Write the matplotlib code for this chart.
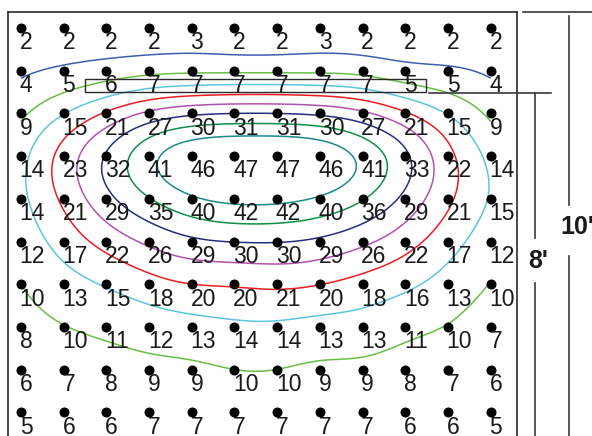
import numpy as np
import matplotlib
matplotlib.use('Agg')
import matplotlib.pyplot as plt
from matplotlib.patches import Rectangle

plt.rcParams['font.family'] = ['Liberation Sans', 'DejaVu Sans']

# illuminance readings on the grid (rows top -> bottom)
valores = [
    [2, 2, 2, 2, 3, 2, 2, 3, 2, 2, 2, 2],
    [4, 5, 6, 7, 7, 7, 7, 7, 7, 5, 5, 4],
    [9, 15, 21, 27, 30, 31, 31, 30, 27, 21, 15, 9],
    [14, 23, 32, 41, 46, 47, 47, 46, 41, 33, 22, 14],
    [14, 21, 29, 35, 40, 42, 42, 40, 36, 29, 21, 15],
    [12, 17, 22, 26, 29, 30, 30, 29, 26, 22, 17, 12],
    [10, 13, 15, 18, 20, 20, 21, 20, 18, 16, 13, 10],
    [8, 10, 11, 12, 13, 14, 14, 13, 13, 11, 10, 7],
    [6, 7, 8, 9, 9, 10, 10, 9, 9, 8, 7, 6],
    [5, 6, 6, 7, 7, 7, 7, 7, 7, 6, 6, 5],
]
niveis = [5, 10, 15, 20, 25, 30, 35, 40]
cores = ['#3f5fae', '#6abd45', '#5cc6dd', '#ed1c24',
         '#b350b0', '#262d7f', '#0f8f4a', '#19898a']
dim_labels = ["10'", "8'"]

z = np.array(valores, dtype=float)
nlin, ncol = z.shape
colunas = np.arange(ncol)
linhas = np.arange(nlin)
cc, rr = np.meshgrid(colunas, linhas)


def spline_mat(nk, t):
    # natural cubic spline (unit spacing) as a matrix: fine = M @ knots
    A = np.zeros((nk, nk))
    B = np.zeros((nk, nk))
    A[0, 0] = A[-1, -1] = 1
    for i in range(1, nk - 1):
        A[i, i - 1:i + 2] = [1, 4, 1]
        B[i, i - 1:i + 2] = [6, -12, 6]
    S = np.linalg.solve(A, B)
    M = np.zeros((len(t), nk))
    for k, tt in enumerate(t):
        i = min(int(np.floor(tt)), nk - 2)
        u = tt - i
        lin = np.zeros(nk)
        lin[i] = 1 - u
        lin[i + 1] = u
        cub = np.zeros(nk)
        cub[i] = ((1 - u) ** 3 - (1 - u)) / 6
        cub[i + 1] = (u ** 3 - u) / 6
        M[k] = lin + cub @ S
    return M


fig = plt.figure(figsize=(5.92, 4.36), dpi=100)
W, H = 592, 436
# grid spacing in pixels and first dot position
passo = 42.7
x0, y0 = 21, 28
esq, dir_, topo, base = 8, 516.5, 12, 470
ax = fig.add_axes([esq / W, 1 - base / H, (dir_ - esq) / W, (base - topo) / H])
ax.set_xlim((esq - x0) / passo, (dir_ - x0) / passo)
ax.set_ylim((base - y0) / passo, (topo - y0) / passo)
ax.set_xticks([])
ax.set_yticks([])
for s in ax.spines.values():
    s.set_color('#2a2a2a')
    s.set_linewidth(1.2)

# smooth surface: tensor cubic spline on a fine grid + light blur
n = 20
xf = np.linspace(0, ncol - 1, (ncol - 1) * n + 1)
yf = np.linspace(0, nlin - 1, (nlin - 1) * n + 1)
ZF = spline_mat(nlin, yf) @ z @ spline_mat(ncol, xf).T
XF, YF = np.meshgrid(xf, yf)

sig = 0.45 * n
k = np.arange(-int(3 * sig), int(3 * sig) + 1)
g = np.exp(-0.5 * (k / sig) ** 2)
g /= g.sum()
pad = len(k) // 2
Zp = np.pad(ZF, pad, mode='reflect', reflect_type='odd')
Zp = np.apply_along_axis(lambda v: np.convolve(v, g, mode='same'), 1, Zp)
Zp = np.apply_along_axis(lambda v: np.convolve(v, g, mode='same'), 0, Zp)
ZS = Zp[pad:-pad, pad:-pad]

ax.contour(XF, YF, ZS, levels=niveis, colors=cores, linewidths=1.1, zorder=2)

ax.scatter(cc.ravel(), rr.ravel(), s=52, c='black', zorder=3, linewidths=0)
for i in range(nlin):
    for j in range(ncol):
        ax.text(j - 0.03, i + 0.5, str(valores[i][j]), ha='left', va='baseline',
                fontsize=16.5, color='#1a1a1a', zorder=4)

ax.add_patch(Rectangle((1.5, 1.19), 7.985, 0.31, fill=False,
                       edgecolor='#2a2a2a', linewidth=1.0, zorder=3))

# dimension lines (figure pixels)
ov = fig.add_axes([0, 0, 1, 1], facecolor='none')
ov.set_xlim(0, W)
ov.set_ylim(H, 0)
ov.axis('off')
cor_dim = '#3a3a3a'
ov.plot([523, 592], [12, 12], color=cor_dim, lw=1.2)
ov.plot([569, 569], [16, 205], color=cor_dim, lw=1.2)
ov.plot([569, 569], [256, 436], color=cor_dim, lw=1.2)
ov.plot([429, 551], [93, 93], color=cor_dim, lw=1.2)
ov.plot([534.5, 534.5], [93, 238], color=cor_dim, lw=1.2)
ov.plot([534.5, 534.5], [283, 436], color=cor_dim, lw=1.2)
fam = ['Liberation Sans Narrow', 'Liberation Sans', 'DejaVu Sans']
ov.text(577, 227, dim_labels[0], ha='center', va='center', fontsize=18,
        fontweight='bold', family=fam, color='#1a1a1a')
ov.text(538, 261, dim_labels[1], ha='center', va='center', fontsize=18,
        fontweight='bold', family=fam, color='#1a1a1a')

fig.savefig('out.png', dpi=100)
